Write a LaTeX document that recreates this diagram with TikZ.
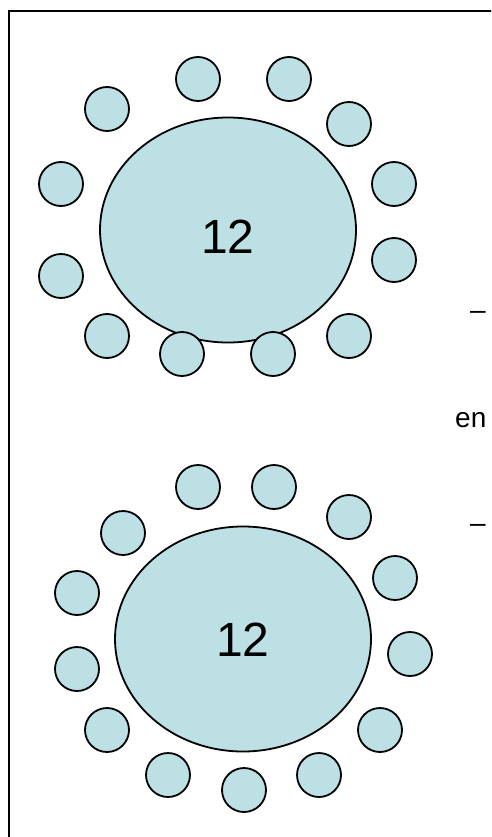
\documentclass[tikz,border=0pt]{standalone}
\usepackage{fontspec}
\setmainfont{Liberation Sans}
\usetikzlibrary{shapes.geometric}
\definecolor{seat}{RGB}{188,224,228}
\begin{document}
\begin{tikzpicture}[x=1pt,y=-1pt]
  \tikzset{chair/.style = {shape=circle,draw,fill=seat,line width=1.8pt,minimum size=44pt,inner sep=0pt}}
  \tikzset{table/.style = {shape=ellipse,draw,fill=seat,line width=1.8pt,minimum width=256pt,minimum height=225pt,inner sep=0pt}}
  \tikzset{seats/.style = {inner sep=0pt,font=\fontsize{48}{48}\selectfont}}
  \tikzset{note/.style = {anchor=base west,inner sep=0pt,font=\fontsize{28}{28}\selectfont}}

  \useasboundingbox (0,0) rectangle (491,837);
  \clip (0,0) rectangle (491,837);
  \fill[white] (0,0) rectangle (491,837);
  \draw[line width=1.8pt] (9,11) rectangle (540,880);

	% top table
	\node[table] (T1) at (228,230) {};
	\node[seats] (l1) at (228,237) {12};
	\foreach \x/\y [count=\i] in {198/79, 289/79, 349/124, 394/184, 394/260, 349/336,
	    273/354, 182/354, 107/336, 61/276, 61/184, 107/109}
	  \node[chair] (a\i) at (\x,\y) {};

	% bottom table
	\node[table] (T2) at (243,639) {};
	\node[seats] (l2) at (243,640) {12};
	\foreach \x/\y [count=\i] in {198/487, 274/487, 349/517, 395/578, 410/654, 380/730,
	    319/775, 244/790, 168/775, 107/730, 77/669, 77/593, 123/533}
	  \node[chair] (b\i) at (\x,\y) {};

	% text cut off at the right
	\node[note] (n1) at (470,319) {–};
	\node[note] (n2) at (455,427) {en};
	\node[note] (n3) at (470,532) {–};
\end{tikzpicture}
\end{document}
